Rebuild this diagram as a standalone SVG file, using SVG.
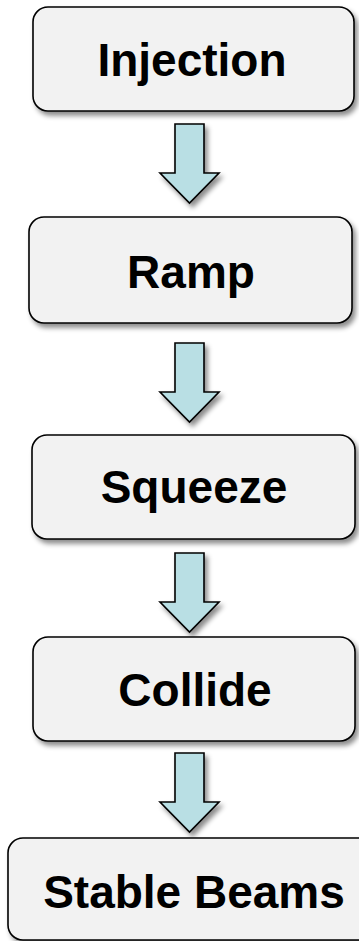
<svg xmlns="http://www.w3.org/2000/svg" width="359" height="941" viewBox="0 0 359 941">
<defs>
<filter id="sh" x="-20%" y="-20%" width="140%" height="150%">
<feDropShadow dx="3" dy="4" stdDeviation="2.5" flood-color="#000" flood-opacity="0.45"/>
</filter>
<path id="arr" d="M0,0 H29 V49 H44 L14.5,79 L-15,49 H0 Z"/>
</defs>
<style>
.box{fill:#f2f2f2;stroke:#000;stroke-width:1.6;filter:url(#sh)}
.lbl{font-family:"Liberation Sans",Arial,sans-serif;font-weight:bold;font-size:46px;fill:#000;text-anchor:middle}
.ar{fill:#b9dfe4;stroke:#000;stroke-width:1.6;stroke-linejoin:miter;filter:url(#sh)}
</style>
<g id="connectors">
<use href="#arr" class="ar" x="175" y="124"/>
<use href="#arr" class="ar" x="175" y="343"/>
<use href="#arr" class="ar" x="175" y="553"/>
<use href="#arr" class="ar" x="175" y="753"/>
</g>
<g id="injection">
<rect class="box" x="33" y="7" width="321" height="104" rx="15"/>
<text class="lbl" x="192" y="76">Injection</text>
</g>
<g id="ramp">
<rect class="box" x="29" y="217" width="323" height="106" rx="15"/>
<text class="lbl" x="191" y="288">Ramp</text>
</g>
<g id="squeeze">
<rect class="box" x="32" y="435" width="323" height="104" rx="15"/>
<text class="lbl" x="194" y="503">Squeeze</text>
</g>
<g id="collide">
<rect class="box" x="33" y="637" width="322" height="104" rx="15"/>
<text class="lbl" x="195" y="706">Collide</text>
</g>
<g id="stable-beams">
<rect class="box" x="8" y="838" width="370" height="102" rx="15"/>
<text class="lbl" x="194" y="908">Stable Beams</text>
</g>
</svg>
